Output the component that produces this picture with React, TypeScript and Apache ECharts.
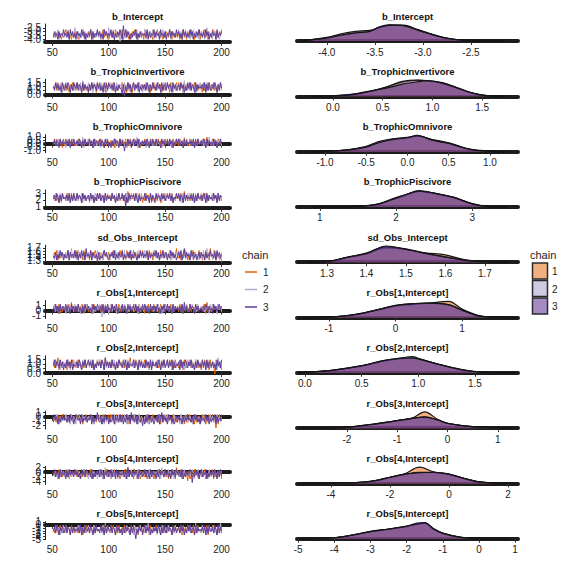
import React, { useEffect, useRef } from "react";
import * as echarts from "echarts";

const PARAMS = [
  "b_Intercept",
  "b_TrophicInvertivore",
  "b_TrophicOmnivore",
  "b_TrophicPiscivore",
  "sd_Obs_Intercept",
  "r_Obs[1,Intercept]",
  "r_Obs[2,Intercept]",
  "r_Obs[3,Intercept]",
  "r_Obs[4,Intercept]",
  "r_Obs[5,Intercept]",
];
const CHAINS = ["1", "2", "3"];
const ITER_START = 51;
const ITER_TICKS = [50, 100, 150, 200];
const ITER_RANGE = [43.55, 207.45];

// digit code d -> value = center + (d - 4.5) * step
const TRACE_CENTER = [-3.35, 0.85, 0.05, 2.3, 1.47, 0.3, 0.9, -0.6, -0.9, -1.8];
const TRACE_STEP = [0.25, 0.24, 0.26, 0.3, 0.06, 0.34, 0.22, 0.47, 0.78, 0.65];

const TRACE = [
  [
    "4534635243 5746342536 4625347352 4637425346 3524736452 4536274536 4725364253 6473524635 2746353426 5374635243 6537426354 3625473526 4573625437 2645736254 3746253647",
    "5364725346 3547263548 4362537462 5347264537 3625374628 4537264351 6243574632 5463725364 4725346372 5364253746 3547263546 4736254735 6253746352 4637258364 5274635246",
    "3645263547 4536274635 2645374625 3547263547 4635274635 4736253647 5294736425 3647253645 4537263547 3645274536 2547364537 4635274635 3746253647 4536374625 3645273546",
  ],
  [
    "5463746526 4735264736 3746527463 5264735627 4736352746 5637426354 4736527364 2746537463 5647362547 3657462537 4652736457 3746527364 5736472635 4627364753 6473526374",
    "4657364725 6374526473 5463728364 4736527463 5374637254 4736527346 5637463725 4736537462 6374526375 4637526473 5746372536 4637528463 5374637264 7364527364 4637526473",
    "5374635274 3647526375 4736527364 5263746537 4635274637 5463725364 4160537462 5736472536 4637526374 5374627365 3746527463 5637462537 4736527364 5463726374 3647526374",
  ],
  [
    "5647364527 3746527463 5374627364 4736527463 6374526374 4635274637 5463726374 5374637254 4736527463 5647362537 4736527364 6374526473 4736527364 5463728364 3746527463",
    "4536475364 5274635746 3647538264 5736452736 4627364753 5364726354 4753627436 6374825364 4527364735 6374526374 5647362547 4736528364 5374625374 6473526384 4637526473",
    "4736527364 5463726374 4637526374 5374627365 4736527463 5263746527 3640537462 5736472536 4637526374 3746527463 5637462537 4735627364 5463726374 4637527364 5374625374",
  ],
  [
    "6473526374 5374627364 4736527463 5637462537 4736527364 6374526473 5463728364 4736537462 5374637254 4637526473 5746372536 4637528463 6374526375 5364726354 4736527463",
    "5374637264 4637526473 5736472635 4627364753 6473526374 5374627364 4635274637 5463726374 4736527463 5647362547 3657462537 4652736457 3746527364 5736472635 4736527364",
    "4637526374 5463726374 3746527463 5637462537 4735627364 5374625374 4736052746 5637426354 4736527364 2746537463 5647362547 4736527364 5463726374 4637527364 5374627365",
  ],
  [
    "3647253645 4537263547 5736452736 4627364753 3645274536 2547364537 4635274635 3746253647 4536374625 7645273546 3547263548 4362537462 5347264537 3625374628 4537264351",
    "5263746352 4637258364 5274635246 3645263547 4536274635 2645374625 3547263547 4635274635 4736253647 5364253746 3547263546 4736254735 6253746352 4637258364 5274635246",
    "4362537462 5347264537 3625374628 4537264351 6243574632 5463725364 4725346372 5364253746 3547263546 4736254735 6253746352 4637258364 5274635246 3645263547 4536274635",
  ],
  [
    "5746372536 4637528463 5374637264 7364527364 4637526473 5374635274 3647526375 4736527364 5263746537 4635274637 5463725364 6374526473 4736527364 5463728364 3746527463",
    "4736527364 5263746537 4635274637 5463725364 4760537462 5736472536 4637526374 5374627365 3746527463 5637462537 4736527364 5463726374 3647526374 5647364527 3746527463",
    "5374627364 4736527463 6374526374 4635274637 5463726374 5374637254 4736527463 5647362537 4736527364 6374526473 4736527364 5463728364 3746527463 4536475364 5274635746",
  ],
  [
    "6374825364 4527364735 6374526374 5647362547 4736528364 5374625374 6473526384 4637526473 4736527364 5463726374 4637526374 5374627365 4736527463 5263746527 3640537462",
    "5736472536 4637526374 3746527463 5637462537 4735627364 5463726374 4637527364 5374625374 6473526374 5374627364 4736527463 5637462537 4736527364 6374526473 5463728364",
    "4736537462 5374637254 4637526473 5746372536 4637528463 6374526375 5364726354 4736527463 5374637264 4637526473 5736472635 4627364753 6473526374 5374627364 4635274637",
  ],
  [
    "5463726374 4736527463 5647362547 3657462537 4652736457 3746527364 5736472635 4736527364 4637526374 5463726374 3746527463 5637462537 4735627364 5374625374 4736052746",
    "5637426354 4736527364 2746537463 5647362547 4736527364 5463726374 4637527364 5374627365 3647253645 4537263547 5736452736 4627364753 3645274536 2547364537 4635274635",
    "3746253647 4536374625 7645273546 3547263548 4362537462 5347264537 3625374628 4537264351 5263746352 4637258364 5274635246 3645263547 4536274635 2645374625 3547263547",
  ],
  [
    "4635274635 4736253647 5364253746 3547263546 4736254735 6253746352 4637258364 5274635246 4362537462 5347264537 3625374628 4537264351 6243574632 5463725364 4725346372",
    "5364253746 3547263546 4736254735 6253746352 4637258364 5274635246 3645263547 4536274635 5746372536 4637528463 5374637264 7364527364 4637526473 5374635274 3647526375",
    "4736527364 5263746537 4635274637 5463725364 6374526473 4736527364 5463728364 3746527463 4736527364 5263746537 4635274637 5463725364 4760537462 5736472536 4637526374",
  ],
  [
    "5374627365 3746527463 5637462537 4736527364 5463726374 3647526374 5647364527 3746527463 5374627364 4736527463 6374526374 4635274637 5463726374 5374637254 4736527463",
    "5647362537 4736527364 6374526473 4736527364 5463728364 3746527463 4536475364 5274635746 6374825364 4527364735 6374526374 5647362547 4736528364 5374625374 6473526384",
    "4637526473 4736527364 5463726374 4637526374 5374627365 4736527463 5263746527 3640537462 5736472536 4637526374 3746527463 5637462537 4735627364 5463726374 4637527364",
  ],
];

const AXIS_RANGE = [
  [-4.31, -2.01],
  [-0.36, 1.86],
  [-1.34, 1.34],
  [0.7, 3.6],
  [1.224, 1.784],
  [-1.48, 1.84],
  [-0.07, 1.88],
  [-2.99, 1.4],
  [-5.15, 2.34],
  [-5.03, 1.08],
];
const TICKS = [
  [-4, -3.5, -3, -2.5],
  [0, 0.5, 1, 1.5],
  [-1, -0.5, 0, 0.5, 1],
  [1, 2, 3],
  [1.3, 1.4, 1.5, 1.6, 1.7],
  [-1, 0, 1],
  [0, 0.5, 1, 1.5],
  [-2, -1, 0, 1],
  [-4, -2, 0, 2],
  [-5, -4, -3, -2, -1, 0, 1],
];
const TICK_DECIMALS = [1, 1, 1, 0, 1, 0, 1, 0, 0, 0];

const DENS_X = [
  [-4.25, -4.0, -3.85, -3.7, -3.55, -3.45, -3.35, -3.2, -3.05, -2.9, -2.75, -2.6, -2.4, -2.15],
  [-0.25, 0, 0.2, 0.4, 0.55, 0.7, 0.85, 0.95, 1.1, 1.25, 1.4, 1.55, 1.75],
  [-1.2, -1.0, -0.75, -0.5, -0.35, -0.2, 0, 0.12, 0.3, 0.5, 0.65, 0.8, 1.0, 1.2],
  [0.9, 1.3, 1.5, 1.75, 1.95, 2.15, 2.3, 2.5, 2.75, 3.0, 3.2, 3.45],
  [1.25, 1.3, 1.35, 1.4, 1.45, 1.5, 1.55, 1.6, 1.65, 1.7, 1.76],
  [-1.4, -1.0, -0.75, -0.5, -0.25, 0, 0.25, 0.5, 0.8, 1.0, 1.25, 1.5, 1.8],
  [-0.05, 0.0, 0.25, 0.5, 0.7, 0.85, 0.95, 1.0, 1.2, 1.4, 1.6, 1.85],
  [-2.9, -2.5, -2.0, -1.5, -1.0, -0.7, -0.45, -0.2, 0, 0.5, 1.0, 1.3],
  [-5.0, -4.0, -3.0, -2.5, -2.0, -1.5, -1.0, -0.5, 0, 0.5, 1.0, 1.5, 2.2],
  [-4.9, -4.0, -3.5, -3.0, -2.5, -2.0, -1.7, -1.5, -1.25, -1.0, -0.5, 0, 0.8],
];
const DENS_Y = [
  [
    [0.01, 0.18, 0.38, 0.52, 0.62, 0.86, 0.98, 0.95, 0.7, 0.42, 0.18, 0.06, 0.02, 0],
    [0.01, 0.22, 0.45, 0.6, 0.66, 0.84, 0.96, 0.98, 0.68, 0.38, 0.16, 0.05, 0.02, 0],
    [0.01, 0.19, 0.36, 0.5, 0.6, 0.88, 1.0, 0.94, 0.66, 0.4, 0.17, 0.06, 0.02, 0],
  ],
  [
    [0, 0.03, 0.12, 0.35, 0.58, 0.88, 0.98, 0.97, 0.82, 0.52, 0.2, 0.04, 0],
    [0, 0.02, 0.1, 0.33, 0.6, 0.92, 1.0, 0.96, 0.8, 0.5, 0.2, 0.03, 0],
    [0, 0.03, 0.13, 0.36, 0.52, 0.75, 0.9, 0.96, 0.84, 0.53, 0.22, 0.04, 0],
  ],
  [
    [0, 0.02, 0.1, 0.3, 0.58, 0.72, 0.85, 0.95, 0.75, 0.54, 0.3, 0.12, 0.03, 0],
    [0, 0.02, 0.1, 0.33, 0.62, 0.78, 0.88, 0.98, 0.72, 0.5, 0.27, 0.1, 0.02, 0],
    [0, 0.02, 0.09, 0.28, 0.55, 0.74, 0.87, 1.0, 0.7, 0.52, 0.28, 0.1, 0.02, 0],
  ],
  [
    [0, 0.01, 0.03, 0.15, 0.44, 0.76, 0.96, 0.86, 0.6, 0.2, 0.03, 0],
    [0, 0.01, 0.03, 0.17, 0.5, 0.8, 0.98, 0.84, 0.58, 0.18, 0.03, 0],
    [0, 0.01, 0.03, 0.16, 0.46, 0.8, 1.0, 0.85, 0.6, 0.19, 0.03, 0],
  ],
  [
    [0, 0.04, 0.28, 0.52, 0.88, 0.78, 0.58, 0.45, 0.15, 0.03, 0],
    [0, 0.03, 0.3, 0.56, 0.95, 0.82, 0.55, 0.33, 0.12, 0.03, 0],
    [0, 0.04, 0.3, 0.55, 1.0, 0.8, 0.54, 0.32, 0.13, 0.03, 0],
  ],
  [
    [0, 0.02, 0.1, 0.25, 0.48, 0.7, 0.8, 0.88, 1.0, 0.52, 0.12, 0.02, 0],
    [0, 0.02, 0.11, 0.27, 0.5, 0.74, 0.84, 0.9, 0.8, 0.46, 0.1, 0.02, 0],
    [0, 0.02, 0.1, 0.26, 0.5, 0.75, 0.86, 0.88, 0.78, 0.45, 0.1, 0.02, 0],
  ],
  [
    [0, 0.02, 0.17, 0.43, 0.74, 0.88, 0.9, 0.85, 0.5, 0.17, 0.02, 0],
    [0, 0.02, 0.16, 0.42, 0.75, 0.92, 1.0, 0.9, 0.48, 0.16, 0.02, 0],
    [0, 0.02, 0.17, 0.44, 0.77, 0.9, 0.92, 0.86, 0.49, 0.18, 0.02, 0],
  ],
  [
    [0, 0.01, 0.05, 0.22, 0.45, 0.62, 1.0, 0.55, 0.3, 0.09, 0.02, 0],
    [0, 0.01, 0.05, 0.24, 0.47, 0.6, 0.68, 0.5, 0.3, 0.09, 0.02, 0],
    [0, 0.01, 0.06, 0.24, 0.46, 0.6, 0.7, 0.5, 0.29, 0.08, 0.02, 0],
  ],
  [
    [0, 0.02, 0.07, 0.16, 0.36, 0.6, 1.0, 0.7, 0.56, 0.32, 0.1, 0.03, 0],
    [0, 0.02, 0.07, 0.18, 0.38, 0.56, 0.68, 0.68, 0.57, 0.32, 0.1, 0.03, 0],
    [0, 0.02, 0.07, 0.17, 0.38, 0.57, 0.66, 0.69, 0.57, 0.31, 0.1, 0.03, 0],
  ],
  [
    [0, 0.06, 0.22, 0.43, 0.58, 0.75, 0.92, 0.95, 0.6, 0.35, 0.09, 0.02, 0],
    [0, 0.06, 0.23, 0.45, 0.6, 0.77, 0.9, 0.98, 0.62, 0.34, 0.09, 0.02, 0],
    [0, 0.06, 0.22, 0.44, 0.6, 0.78, 0.97, 1.0, 0.58, 0.33, 0.08, 0.02, 0],
  ],
];

const LINE_COLORS = ["#E66101", "#B2ABD2", "#5E3C99"];
const FILL_COLORS = ["#E66101", "#9F93C5", "#4D1787"];
const LEGEND_FILLS = ["#F2B080", "#CFC9E2", "#A68BC3"];

const FONT = "Liberation Sans, Arial, Helvetica, sans-serif";

function decode(s: string, p: number): number[][] {
  const digits = s.replace(/\s/g, "").split("");
  return digits.map((ch, k) => [
    ITER_START + k,
    TRACE_CENTER[p] + (Number(ch) - 4.5) * TRACE_STEP[p],
  ]);
}

function buildOption() {
  const rowStep = 55.3;
  const top0 = 24;
  const h = 18;
  const grids: any[] = [];
  const xAxes: any[] = [];
  const yAxes: any[] = [];
  const series: any[] = [];
  const graphics: any[] = [];

  const axisBar = { show: true, lineStyle: { color: "#1c1c1c", width: 4 } };
  const labelStyle = { fontSize: 10, color: "#222", fontFamily: FONT };

  PARAMS.forEach((name, i) => {
    const top = top0 + rowStep * i;
    const dec = TICK_DECIMALS[i];
    grids.push({ left: 45, top, width: 185, height: h });
    grids.push({ left: 297, top, width: 221, height: h });

    const gi = i * 2;
    xAxes.push({
      gridIndex: gi,
      type: "value",
      min: ITER_RANGE[0],
      max: ITER_RANGE[1],
      axisLine: axisBar,
      axisTick: { show: true, length: 4, customValues: ITER_TICKS, lineStyle: { color: "#333" } },
      axisLabel: { ...labelStyle, margin: 5, customValues: ITER_TICKS },
      splitLine: { show: false },
    });
    yAxes.push({
      gridIndex: gi,
      type: "value",
      min: AXIS_RANGE[i][0],
      max: AXIS_RANGE[i][1],
      axisLine: { show: true, lineStyle: { color: "#222", width: 1 } },
      axisTick: { show: true, length: 2, customValues: TICKS[i], lineStyle: { color: "#333" } },
      axisLabel: { show: false },
      splitLine: { show: false },
    });
    xAxes.push({
      gridIndex: gi + 1,
      type: "value",
      min: AXIS_RANGE[i][0],
      max: AXIS_RANGE[i][1],
      axisLine: axisBar,
      axisTick: { show: true, length: 4, customValues: TICKS[i], lineStyle: { color: "#333" } },
      axisLabel: {
        ...labelStyle,
        margin: 5,
        customValues: TICKS[i],
        formatter: (v: number) => v.toFixed(dec),
      },
      splitLine: { show: false },
    });
    yAxes.push({
      gridIndex: gi + 1,
      type: "value",
      min: -0.06,
      max: 1.05,
      show: false,
      splitLine: { show: false },
    });

    CHAINS.forEach((c, ci) => {
      series.push({
        type: "line",
        name: "chain " + c,
        xAxisIndex: gi,
        yAxisIndex: gi,
        data: decode(TRACE[i][ci], i),
        showSymbol: false,
        symbol: "none",
        lineStyle: { color: LINE_COLORS[ci], width: 1 },
        z: 2 + ci,
      });
    });
    CHAINS.forEach((c, ci) => {
      series.push({
        type: "line",
        name: "density " + c,
        xAxisIndex: gi + 1,
        yAxisIndex: gi + 1,
        data: DENS_X[i].map((x, k) => [x, DENS_Y[i][ci][k]]),
        smooth: 0.35,
        showSymbol: false,
        symbol: "none",
        lineStyle: { color: "#151515", width: 1.2 },
        areaStyle: { color: FILL_COLORS[ci], opacity: 0.5 },
        z: 2 + ci,
      });
    });

    const ty = 16 + rowStep * i;
    [137.5, 407.5].forEach((cx) => {
      graphics.push({
        type: "text",
        x: cx,
        y: ty,
        style: {
          text: name,
          fill: "#111",
          font: `bold 9.5px ${FONT}`,
          align: "center",
          verticalAlign: "middle",
        },
      });
    });
  });

  graphics.push({
    type: "text",
    x: 242,
    y: 255,
    style: { text: "chain", fill: "#222", font: `11px ${FONT}`, align: "left", verticalAlign: "middle" },
  });
  const legY = [272, 289.5, 307];
  CHAINS.forEach((c, ci) => {
    graphics.push({
      type: "line",
      shape: { x1: 245, y1: legY[ci], x2: 257, y2: legY[ci] },
      style: { stroke: LINE_COLORS[ci], lineWidth: 1.5 },
    });
    graphics.push({
      type: "text",
      x: 263,
      y: legY[ci],
      style: { text: c, fill: "#222", font: `10px ${FONT}`, align: "left", verticalAlign: "middle" },
    });
  });
  graphics.push({
    type: "text",
    x: 530,
    y: 255,
    style: { text: "chain", fill: "#222", font: `11px ${FONT}`, align: "left", verticalAlign: "middle" },
  });
  const boxTop = [263, 280.5, 298];
  CHAINS.forEach((c, ci) => {
    graphics.push({
      type: "rect",
      shape: { x: 532.5, y: boxTop[ci], width: 15, height: 16 },
      style: { fill: LEGEND_FILLS[ci], stroke: "#2a2a2a", lineWidth: 1.5 },
    });
    graphics.push({
      type: "text",
      x: 552,
      y: boxTop[ci] + 8.5,
      style: { text: c, fill: "#222", font: `10px ${FONT}`, align: "left", verticalAlign: "middle" },
    });
  });

  return {
    animation: false,
    backgroundColor: "#ffffff",
    textStyle: { fontFamily: FONT },
    grid: grids,
    xAxis: xAxes,
    yAxis: yAxes,
    series,
    graphic: graphics,
  };
}

export default function App() {
  const ref = useRef<HTMLDivElement | null>(null);
  useEffect(() => {
    if (!ref.current) return;
    const chart = echarts.init(ref.current, undefined, { renderer: "svg" });
    const option: any = buildOption();
    chart.setOption(option);
    // trace y tick labels (overlapping, as in the reference) placed via the axis scale
    const extra: any[] = [];
    PARAMS.forEach((_, i) => {
      TICKS[i].forEach((v) => {
        const p = chart.convertToPixel({ gridIndex: i * 2 } as any, [ITER_RANGE[0], v]) as number[];
        if (!p) return;
        extra.push({
          type: "text",
          x: p[0] - 4,
          y: p[1],
          style: {
            text: v.toFixed(TICK_DECIMALS[i]),
            fill: "#222",
            font: `10px ${FONT}`,
            align: "right",
            verticalAlign: "middle",
          },
        });
      });
    });
    chart.setOption({ graphic: [...option.graphic, ...extra] });
    return () => chart.dispose();
  }, []);
  return (
    <div
      ref={ref}
      style={{ position: "fixed", left: 0, top: 0, width: 576, height: 576, background: "#fff" }}
    />
  );
}
